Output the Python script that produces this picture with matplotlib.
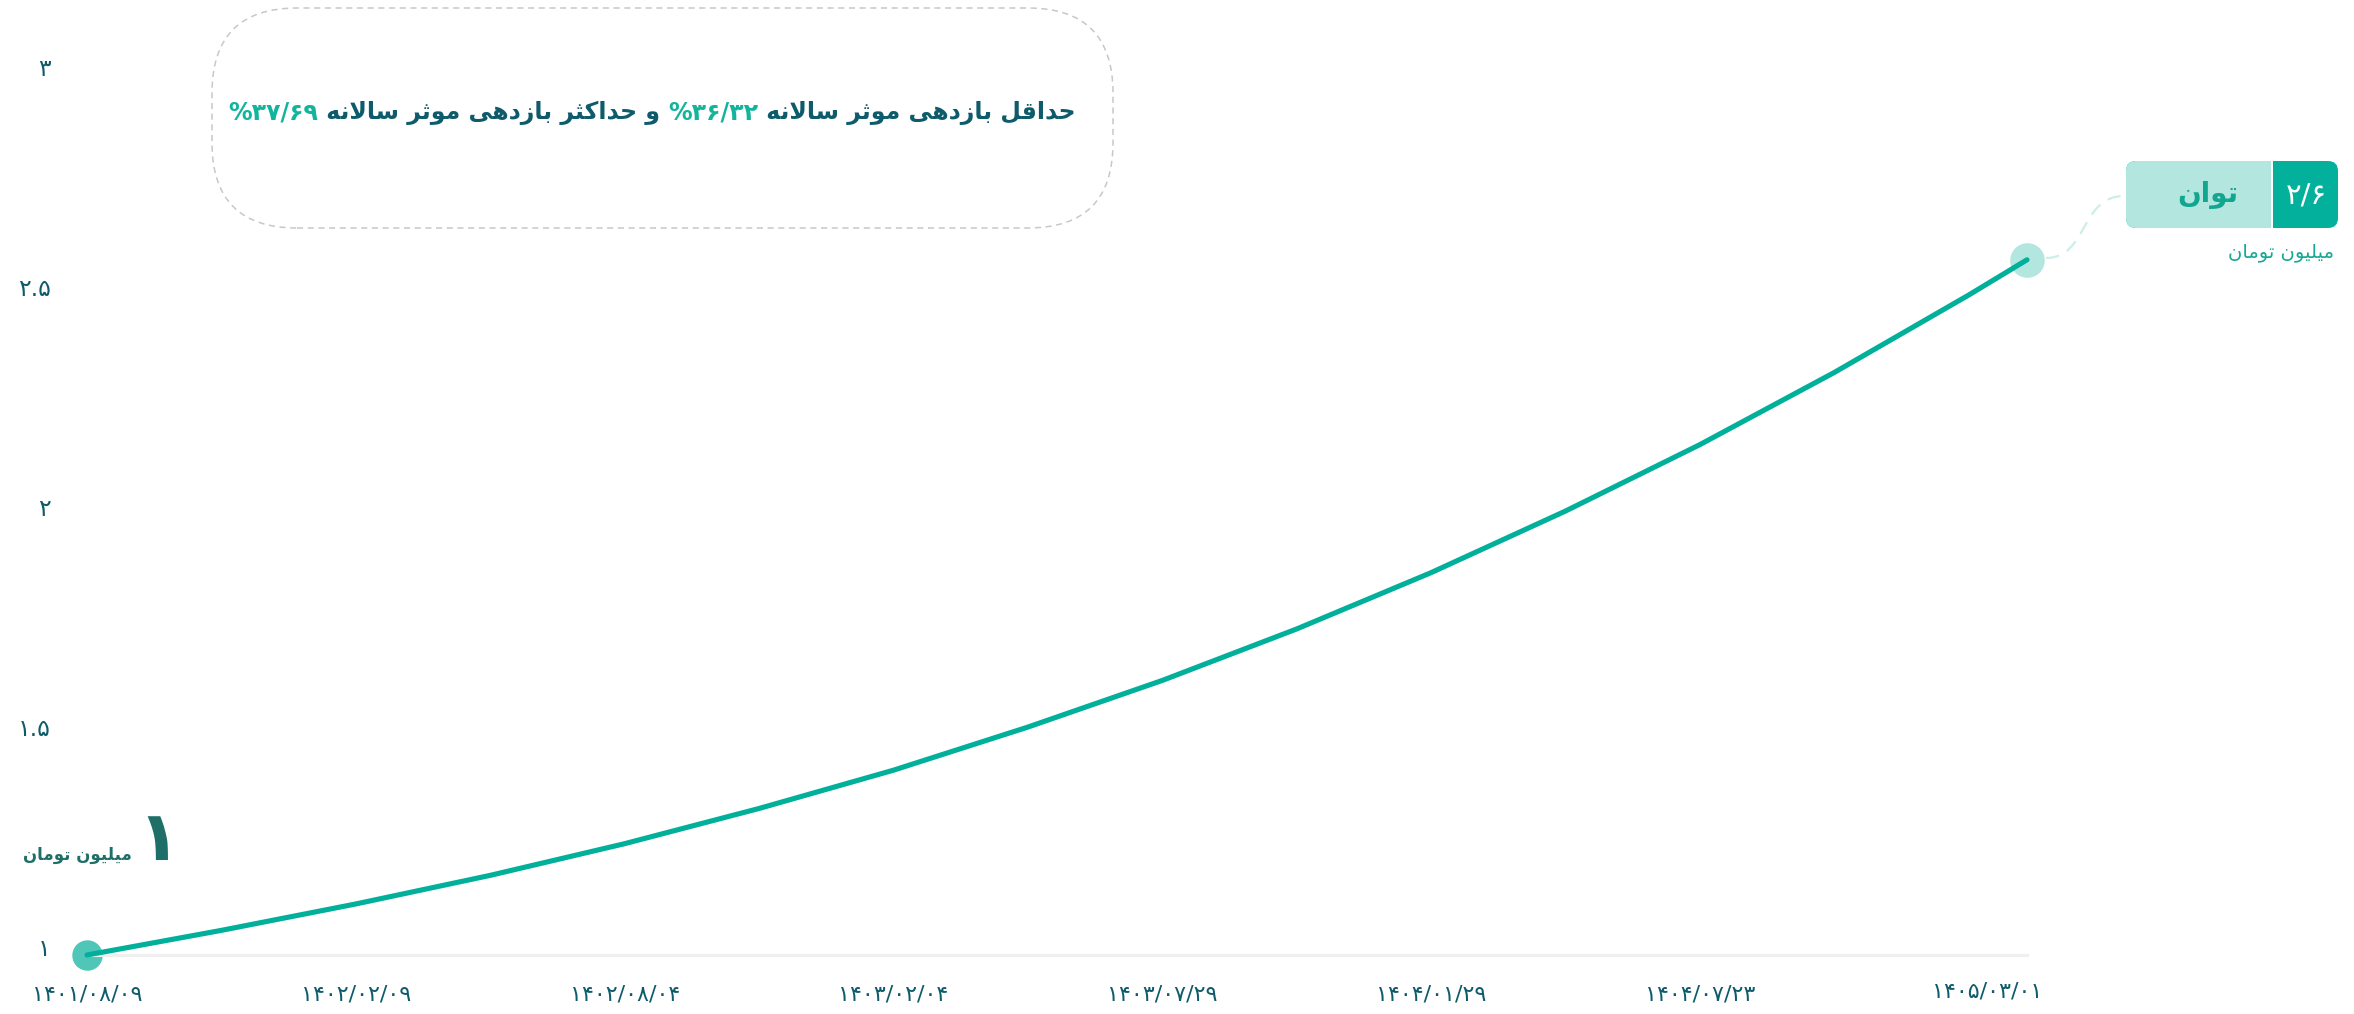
import matplotlib
matplotlib.use("Agg")
import matplotlib.pyplot as plt
from matplotlib.patches import FancyBboxPatch, Rectangle, PathPatch
from matplotlib.path import Path
from matplotlib.transforms import IdentityTransform, ScaledTranslation

plt.rcParams['font.family'] = ['DejaVu Sans']

# days since 1401/08/09 and value in million toman
days = [0, 90, 180, 270, 360, 450, 540, 630, 720, 810, 900, 990, 1080, 1170, 1260, 1299]
values = [1.00, 1.056, 1.116, 1.181, 1.253, 1.333, 1.42, 1.518, 1.624, 1.741, 1.869, 2.009, 2.16, 2.324, 2.50, 2.58]

tick_days = [0, 180, 360, 540, 720, 900, 1080, 1299]
tick_dates = ['۱۴۰۱/۰۸/۰۹', '۱۴۰۲/۰۲/۰۹', '۱۴۰۲/۰۸/۰۴', '۱۴۰۳/۰۲/۰۴',
              '۱۴۰۳/۰۷/۲۹', '۱۴۰۴/۰۱/۲۹', '۱۴۰۴/۰۷/۲۳', '۱۴۰۵/۰۳/۰۱']
y_ticks = [1, 1.5, 2, 2.5, 3]
y_labels = ['۱', '۱.۵', '۲', '۲.۵', '۳']

start_label = '۱'
end_label = '۲/۶'
unit = 'میلیون تومان'
end_word = 'توان'
# persian words get shaped, numbers are already in display order
title_parts = [('حداقل بازدهی موثر سالانه ', 'dark'), ('%۳۶/۳۲', 'green'),
               (' و حداکثر بازدهی موثر سالانه ', 'dark'), ('%۳۷/۶۹', 'green')]

LINE = '#00b09b'
DARK = '#0d5b6b'
GREEN = '#12b49c'

FORMS = {
    'ا': ('\ufe8d', '\ufe8e', None, None),
    'ب': ('\ufe8f', '\ufe90', '\ufe91', '\ufe92'),
    'ت': ('\ufe95', '\ufe96', '\ufe97', '\ufe98'),
    'ث': ('\ufe99', '\ufe9a', '\ufe9b', '\ufe9c'),
    'ح': ('\ufea1', '\ufea2', '\ufea3', '\ufea4'),
    'د': ('\ufea9', '\ufeaa', None, None),
    'ر': ('\ufead', '\ufeae', None, None),
    'ز': ('\ufeaf', '\ufeb0', None, None),
    'س': ('\ufeb1', '\ufeb2', '\ufeb3', '\ufeb4'),
    'ق': ('\ufed5', '\ufed6', '\ufed7', '\ufed8'),
    'ک': ('\ufb8e', '\ufb8f', '\ufb90', '\ufb91'),
    'ل': ('\ufedd', '\ufede', '\ufedf', '\ufee0'),
    'م': ('\ufee1', '\ufee2', '\ufee3', '\ufee4'),
    'ن': ('\ufee5', '\ufee6', '\ufee7', '\ufee8'),
    'ه': ('\ufee9', '\ufeea', '\ufeeb', '\ufeec'),
    'و': ('\ufeed', '\ufeee', None, None),
    'ی': ('\ufbfc', '\ufbfd', '\ufbfe', '\ufbff'),
}


def shape(text):
    # simple persian shaping + reversal for right-to-left display
    out = []
    i, n = 0, len(text)
    while i < n:
        c = text[i]
        if c not in FORMS:
            out.append(c)
            i += 1
            continue
        prev = text[i - 1] if i > 0 else ''
        joins_prev = prev in FORMS and FORMS[prev][2] is not None
        if c == 'ل' and i + 1 < n and text[i + 1] == 'ا':
            out.append('\ufefc' if joins_prev else '\ufefb')
            i += 2
            continue
        nxt = text[i + 1] if i + 1 < n else ''
        joins_next = FORMS[c][2] is not None and nxt in FORMS
        iso, fin, ini, med = FORMS[c]
        if joins_prev and joins_next:
            g = med
        elif joins_prev:
            g = fin
        elif joins_next:
            g = ini
        else:
            g = iso
        out.append(g)
        i += 1
    return ''.join(reversed(out))


W, H = 2354, 1014
fig = plt.figure(figsize=(W / 100, H / 100), dpi=100)
fig.patch.set_facecolor('white')
ax = fig.add_axes([87 / W, (H - 955) / H, (2027 - 87) / W, (955 - 75) / H])
ax.set_xlim(0, 1299)
ax.set_ylim(1, 3)
for s in ['top', 'right', 'left']:
    ax.spines[s].set_visible(False)
ax.spines['bottom'].set_color('#efefef')
ax.spines['bottom'].set_linewidth(2.2)

ax.plot(days, values, color=LINE, lw=3.7, solid_capstyle='round', zorder=3, clip_on=False)
ax.scatter([days[0]], [values[0]], s=480, color='#4fc6b7', zorder=2, clip_on=False, linewidths=0)
ax.scatter([days[-1]], [values[-1]], s=620, color='#b3e6df', zorder=2, clip_on=False, linewidths=0)

ax.set_yticks(y_ticks)
ax.set_yticklabels(y_labels, fontsize=17, color=DARK)
ax.tick_params(axis='y', length=0, pad=26)
for lbl in ax.get_yticklabels():
    lbl.set_transform(lbl.get_transform() + ScaledTranslation(0, 8 / 100, fig.dpi_scale_trans))

ax.set_xticks(tick_days)
ax.set_xticklabels(tick_dates, fontsize=16, color=DARK)
ax.tick_params(axis='x', length=0, pad=21)
last = ax.get_xticklabels()[-1]
last.set_ha('right')
last.set_transform(last.get_transform() + ScaledTranslation(15 / 100, 3 / 100, fig.dpi_scale_trans))

px = IdentityTransform()

# dashed title box
box = FancyBboxPatch((212, H - 228), 901, 220, boxstyle='round,pad=0,rounding_size=85',
                     transform=px, fill=False, edgecolor='#c8c8c8', lw=1.1, linestyle=(0, (4, 3)))
fig.patches.append(box)

renderer = fig.canvas.get_renderer()
pieces = []
for txt, col in title_parts:
    s = shape(txt) if col == 'dark' else txt
    t = fig.text(0, H - 113, s, transform=px, fontsize=17, fontweight='bold',
                 color=DARK if col == 'dark' else GREEN, ha='right', va='center')
    pieces.append(t)
widths = [p.get_window_extent(renderer).width for p in pieces]
x_right = 652 + sum(widths) / 2
for p, w in zip(pieces, widths):
    p.set_x(x_right)
    x_right -= w

# start annotation
fig.text(180, H - 840, start_label, transform=px, fontsize=50, fontweight='bold',
         color='#1f6e68', ha='right', va='center')
fig.text(132, H - 855, shape(unit), transform=px, fontsize=12, fontweight='bold',
         color='#1f6e68', ha='right', va='center')

# end annotation tag
fig.patches.append(FancyBboxPatch((2126, H - 228), 212, 67, boxstyle='round,pad=0,rounding_size=10',
                                  transform=px, facecolor='#03b09b', edgecolor='none'))
fig.patches.append(FancyBboxPatch((2126, H - 228), 170, 67, boxstyle='round,pad=0,rounding_size=10',
                                  transform=px, facecolor='#b3e6df', edgecolor='none'))
fig.patches.append(Rectangle((2272, H - 228), 30, 67, transform=px, facecolor='#03b09b', edgecolor='none'))
fig.patches.append(Rectangle((2271, H - 228), 1.5, 67, transform=px, facecolor='white', edgecolor='none'))
fig.text(2208, H - 195, shape(end_word), transform=px, fontsize=20, fontweight='bold',
         color='#10a690', ha='center', va='center')
fig.text(2306, H - 195, end_label, transform=px, fontsize=21, color='white', ha='center', va='center')
fig.text(2334, H - 252, shape(unit), transform=px, fontsize=14, color='#14a994', ha='right', va='center')

conn = Path([(2046, H - 258), (2088, H - 258), (2080, H - 196), (2124, H - 196)],
            [Path.MOVETO, Path.CURVE4, Path.CURVE4, Path.CURVE4])
fig.patches.append(PathPatch(conn, transform=px, fill=False, edgecolor='#cdeee9', lw=1.6,
                             linestyle=(0, (6, 4))))

fig.savefig('out.png', dpi=100, facecolor='white')
